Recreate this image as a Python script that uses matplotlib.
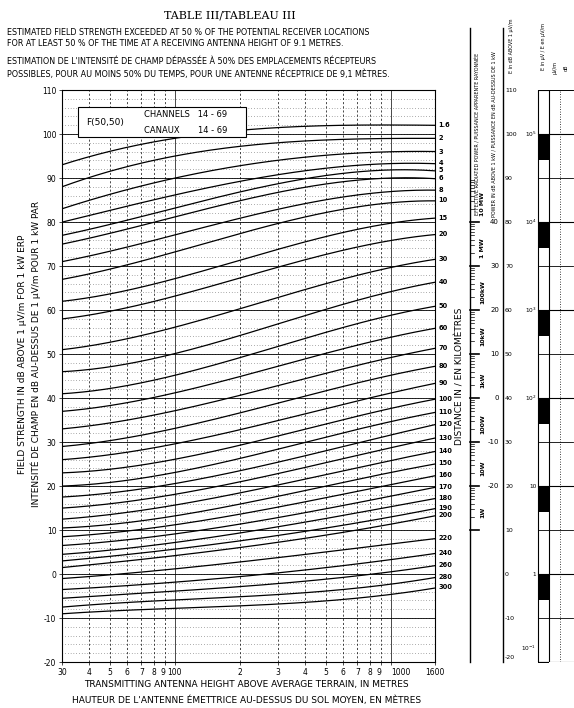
import numpy as np
import matplotlib.pyplot as plt
from matplotlib.ticker import FixedLocator
from matplotlib.patches import Rectangle

heights = [30, 100, 300, 1000, 1600]
distances = ["1.6","2","3","4","5","6","8","10","15","20","30","40","50","60","70","80","90",
             "100","110","120","130","140","150","160","170","180","190","200","220","240","260","280","300"]
field = [
 [93,99,101.5,102,102],[88,95,98,99,99],[83,90,94,96,96],[80,86,91,93,93.4],[77,83,89,91.5,91.8],
 [75,81,87,89.7,90],[71,77,83,86.8,87.3],[67,73,80,84,85],[62,67,74,79.5,81],[58,63,70,75.5,77.3],
 [51,56,63,69.5,71.6],[46,50,57,64,66.4],[41,45,52,58.5,61],[37,41,47.5,53.5,56],[33,37,43,49,51.4],
 [29,33,39,45,47.3],[26,29.5,35,41,43.4],[23,26,31.5,37.5,39.8],[20,23,28.5,34.5,36.8],
 [17.5,20.5,25.5,31.5,34],[15,18,23,28.5,31],[12.5,15.5,20.5,25.5,28],[10.5,13,18,22.7,25.2],
 [8.5,11,15.5,20,22.5],[6.5,9,13,17.5,19.8],[4.5,7,11,15,17.3],[3,5.5,9,12.7,15],[1.5,4,7.5,11,13.4],
 [-1,1,4,6.5,8.2],[-3.5,-2,0.5,3,4.8],[-5.5,-4,-2,0.3,2],[-7.5,-6,-4.5,-2.5,-0.7],[-9,-8,-6.5,-5,-3]]
xtick_vals = [30,40,50,60,70,80,90,100,200,300,400,500,600,700,800,900,1000,1600]
xtick_labels = ["30","4","5","6","7","8","9","100","2","3","4","5","6","7","8","9","1000","1600"]
erp_labels = ["10 MW","1 MW","100kW","10kW","1kW","100W","10W","1W"]
erp_db = [80,70,60,50,40,30,20,10]
dbk_vals = [40,30,20,10,0,-10,-20]
uv_labels = ["10$^5$","10$^4$","10$^3$","10$^2$","10","1","10$^{-1}$"]
uv_db = [100,80,60,40,20,0,-20]

plt.rcParams['font.family'] = 'DejaVu Sans'
fig = plt.figure(figsize=(5.74,7.08), dpi=100)
ax = fig.add_axes([62/574, 1-662/708, (435-62)/574, (662-90)/708])
ax.set_xscale('log'); ax.set_xlim(30,1600); ax.set_ylim(-20,110)
lx = np.log10(heights)
xs = np.logspace(np.log10(30), np.log10(1600), 200)
for vals in field:
    c = np.polyfit(lx, vals, 3)
    ax.plot(xs, np.polyval(c, np.log10(xs)), color='k', lw=0.9)
ax.xaxis.set_major_locator(FixedLocator(xtick_vals))
ax.xaxis.set_minor_locator(FixedLocator([]))
ax.set_xticklabels(xtick_labels, fontsize=5.5)
for t, lab in zip(ax.get_xticklabels(), xtick_labels):
    if lab == "1000": t.set_ha('left')
    if lab == "9": t.set_ha('right')
ax.set_yticks(range(-20,111,10))
ax.set_yticklabels([str(v) for v in range(-20,111,10)], fontsize=5.5)
for v in range(-20,111,10):
    ax.axhline(v, color='k', lw=0.6)
for v in range(-20,111,2):
    ax.axhline(v, color='k', lw=0.4, ls=(0,(1,4)))
for v in xtick_vals:
    ax.axvline(v, color='k', lw=0.5, ls='-' if v in (100,1000) else (0,(3,3)))
ax.tick_params(length=2, width=0.5, pad=2)
for sp in ax.spines.values(): sp.set_linewidth(0.8)
for d, vals in zip(distances, field):
    ax.text(1.01, (vals[-1]+20)/130, d, transform=ax.transAxes, fontsize=4.8, va='center', fontweight='bold')
ax.text(1.068, 0.5, "DISTANCE IN / EN KILOMÈTRES", transform=ax.transAxes, rotation=90,
        fontsize=6.5, va='center', ha='center')
ax.add_patch(Rectangle((0.043, 0.918), 0.45, 0.052, transform=ax.transAxes, fc='white', ec='k', lw=0.8, zorder=5))
ax.text(0.065, 0.944, "F(50,50)", transform=ax.transAxes, fontsize=6.5, va='center', zorder=6)
ax.text(0.22, 0.958, "CHANNELS   14 - 69", transform=ax.transAxes, fontsize=6, va='center', zorder=6)
ax.text(0.22, 0.930, "CANAUX       14 - 69", transform=ax.transAxes, fontsize=6, va='center', zorder=6)

fig.text(0.04, 0.5, "FIELD STRENGTH IN dB ABOVE 1 µV/m FOR 1 kW ERP", rotation=90, fontsize=6.5, va='center', ha='center')
fig.text(0.062, 0.5, "INTENSITÉ DE CHAMP EN dB AU-DESSUS DE 1 µV/m POUR 1 kW PAR", rotation=90, fontsize=6.5, va='center', ha='center')
fig.text(0.43, 1-687/708, "TRANSMITTING ANTENNA HEIGHT ABOVE AVERAGE TERRAIN, IN METRES", fontsize=6.5, ha='center')
fig.text(0.43, 1-703/708, "HAUTEUR DE L'ANTENNE ÉMETTRICE AU-DESSUS DU SOL MOYEN, EN MÈTRES", fontsize=6.5, ha='center')
fig.text(0.4, 1-15/708, "TABLE III/TABLEAU III", fontsize=8, ha='center', va='center', family='serif')
fig.text(0.012, 1-38/708, "ESTIMATED FIELD STRENGTH EXCEEDED AT 50 % OF THE POTENTIAL RECEIVER LOCATIONS\nFOR AT LEAST 50 % OF THE TIME AT A RECEIVING ANTENNA HEIGHT OF 9.1 METRES.",
         fontsize=5.8, va='center', linespacing=1.4)
fig.text(0.012, 1-68/708, "ESTIMATION DE L'INTENSITÉ DE CHAMP DÉPASSÉE À 50% DES EMPLACEMENTS RÉCEPTEURS\nPOSSIBLES, POUR AU MOINS 50% DU TEMPS, POUR UNE ANTENNE RÉCEPTRICE DE 9,1 MÈTRES.",
         fontsize=5.8, va='center', linespacing=1.4)

# nomogram
nx = fig.add_axes([435/574, 1-662/708, 139/574, (662-90)/708])
nx.set_xlim(435,574); nx.set_ylim(-20,110); nx.axis('off')
nx.plot([470,470],[-20,124], color='k', lw=1, clip_on=False)
for v in erp_db:
    nx.plot([470,479],[v,v], color='k', lw=1.2)
    for k in [2,3,4,5,6,7,8,9]:
        nx.plot([470,474],[v+10*np.log10(k)]*2, color='k', lw=0.5)
for lab, v in zip(erp_labels, erp_db):
    nx.text(483, v+4, lab, rotation=90, fontsize=4.5, va='center', ha='center', fontweight='bold')
nx.text(477, 100, "EFFECTIVE RADIATED POWER / PUISSANCE APPARENTE RAYONNÉE", rotation=90, fontsize=3.5, va='center', ha='center')
nx.plot([503,503],[-20,124], color='k', lw=1, clip_on=False)
for v in range(-10,111,10):
    nx.text(505, v, str(v), fontsize=4.5, va='center')
nx.text(505, -19, "-20", fontsize=4.5, va='center')
for v, db in zip(dbk_vals, range(80,19,-10)):
    nx.text(499, db, str(v), fontsize=5, va='center', ha='right')
nx.text(494, 100, "POWER IN dB ABOVE 1 kW / PUISSANCE EN dB AU-DESSUS DE 1 kW", rotation=90, fontsize=3.5, va='center', ha='center')
nx.text(512, 120, "E in dB ABOVE 1 µV/m", rotation=90, fontsize=3.5, va='center', ha='center', clip_on=False)
c0, c1 = 538, 549
nx.plot([c0,c0,c1,c1,c0],[-20,110,110,-20,-20], color='k', lw=0.8)
nx.plot([c1,573],[110,110], color='k', lw=1.2)
for v in uv_db:
    nx.fill_between([c0,c1],[v-6]*2,[v]*2, color='k', lw=0)
    nx.plot([c0,573],[v,v], color='k', lw=0.8)
    nx.plot([c0,573],[v+10,v+10], color='k', lw=0.6)
for lab, v in zip(uv_labels, uv_db):
    nx.text(536.5, v + (3 if v == -20 else 0), lab, fontsize=4.2, ha='right', va='center')
nx.plot([560,560],[-20,110], color='k', lw=0.6, ls=(0,(1,2)))
nx.text(543, 120, "E in µV / E en µV/m", rotation=90, fontsize=3.5, va='center', ha='center', clip_on=False)
nx.text(555, 115, "µV/m", rotation=90, fontsize=3.5, va='center', ha='center', clip_on=False)
nx.text(566, 115, "dB", rotation=90, fontsize=3.5, va='center', ha='center', clip_on=False)
fig.savefig("out.png", dpi=100)
